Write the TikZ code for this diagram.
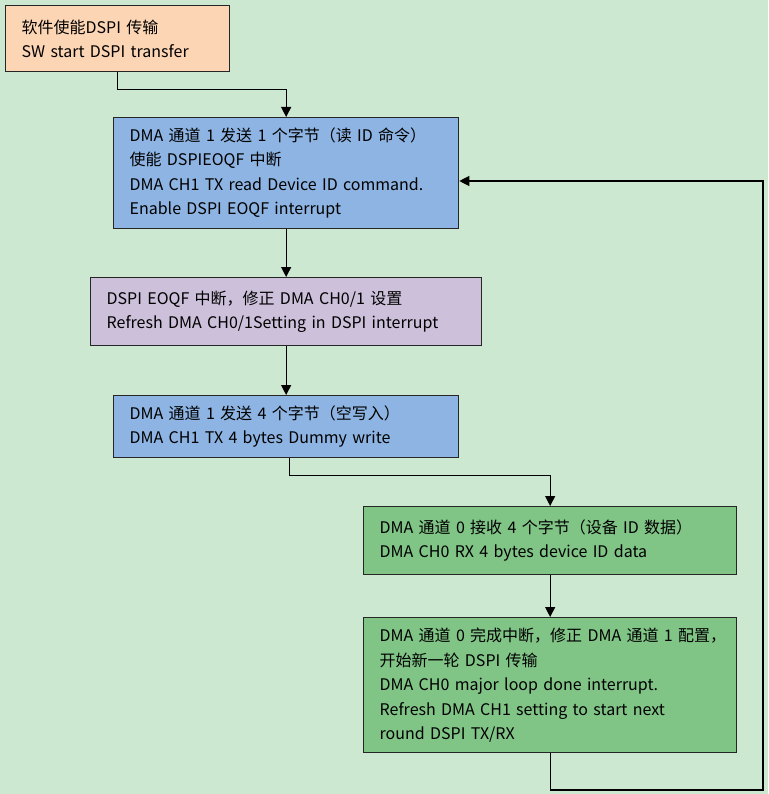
\documentclass[tikz,border=0pt]{standalone}
\usepackage{fontspec}
\setmainfont{Noto Sans CJK SC}
\usepackage{tikz}
\usetikzlibrary{arrows.meta}
\usetikzlibrary{positioning}

\begin{document}
\begin{tikzpicture}[x=1pt, y=-1pt, line cap=butt, line join=miter]
	
	\definecolor{bgG}{RGB}{204,232,208}
	\definecolor{fillO}{RGB}{252,213,181}
	\definecolor{fillB}{RGB}{141,180,226}
	\definecolor{fillP}{RGB}{204,192,218}
	\definecolor{fillG}{RGB}{128,196,134}
	
	\tikzset{
		box/.style={draw=black!85, line width=1.3pt, anchor=north west, align=left,
			inner xsep=16pt, inner ysep=4pt, font=\fontsize{16}{24.5}\selectfont},
		flow/.style={-{Triangle[length=10pt,width=10pt]}, line width=1.2pt, draw=black},
	}
	
	% --- background / page size
	\useasboundingbox (0,0) rectangle (768,794);
	\fill[bgG] (0,0) rectangle (768,794);
	
	% --- steps
	\node[box, fill=fillO, text width=192pt, minimum height=66pt] (start) at (5,5) {%
		软件使能DSPI 传输\\
		SW start DSPI transfer};
	
	\node[box, fill=fillB, text width=313pt, minimum height=111pt] (txcmd) at (113,117) {%
		DMA 通道 1 发送 1 个字节（读 ID 命令）\\
		使能 DSPIEOQF 中断\\
		DMA CH1 TX read Device ID command.\\
		Enable DSPI EOQF interrupt};
	
	\node[box, fill=fillP, text width=359pt, minimum height=68pt] (eoqf) at (90,277) {%
		DSPI EOQF 中断，修正 DMA CH0/1 设置\\
		Refresh DMA CH0/1Setting in DSPI interrupt};
	
	\node[box, fill=fillB, text width=313pt, minimum height=62pt] (txdummy) at (113,395) {%
		DMA 通道 1 发送 4 个字节（空写入）\\
		DMA CH1 TX 4 bytes Dummy write};
	
	\node[box, fill=fillG, text width=341pt, minimum height=68pt] (rxdata) at (363,506) {%
		DMA 通道 0 接收 4 个字节（设备 ID 数据）\\
		DMA CH0 RX 4 bytes device ID data};
	
	\node[box, fill=fillG, text width=341pt, minimum height=135pt] (done) at (363,617) {%
		\mbox{DMA 通道 0 完成中断，修正 DMA 通道 1 配置，}\\
		开始新一轮 DSPI 传输\\
		DMA CH0 major loop done interrupt.\\
		Refresh DMA CH1 setting to start next\\
		round DSPI TX/RX};
	
	% --- loop corner points
	\coordinate (loopR) at (763,790);
	\coordinate (loopT) at (763,181);
	
	% --- connectors
	\draw[flow] (start.south) -- ++(0,17) -| (txcmd.north);
	\draw[flow] (txcmd.south) -- (eoqf.north);
	\draw[flow] (eoqf.south) -- (txdummy.north);
	\draw[flow] ([xshift=3pt]txdummy.south) -- ++(0,17) -| (rxdata.north);
	\draw[flow] (rxdata.south) -- (done.north);
	\draw[flow] (done.south) |- (loopR) -- (loopT) -- (txcmd.east |- loopT);
	
\end{tikzpicture}
\end{document}
